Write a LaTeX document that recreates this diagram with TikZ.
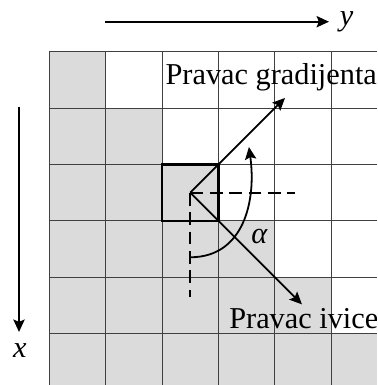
\documentclass[tikz,border=0pt]{standalone}
\usepackage{fontspec}
\setmainfont{Liberation Serif}
\usetikzlibrary{arrows.meta}
\begin{document}
\begin{tikzpicture}[
  x=1cm,y=1cm,
  cell/.style={fill=black!14,draw=none},
  gridline/.style={draw=black!75,line width=0.45pt},
  axis/.style={line width=1pt,-{Stealth[length=2.2mm,width=2mm,inset=0.4mm]}},
  vec/.style={line width=0.9pt,-{Stealth[length=2.2mm,width=2mm,inset=0.4mm]}},
  guide/.style={line width=0.9pt,dash pattern=on 6.5pt off 3.3pt},
  pixbox/.style={line width=1.2pt},
  every node/.style={font=\fontsize{15.3}{18}\selectfont,inner sep=1pt}
]
\clip (-0.874,0.917) rectangle (5.811,-5.910);
\useasboundingbox (-0.874,0.917) rectangle (5.811,-5.910);
% shaded cells
\foreach \r in {0,...,5}
  \foreach \c in {0,...,\r}
    \fill[cell] (\c,-\r) rectangle ++(1,-1);
% grid
\draw[gridline] (0,0) grid (6,-6);
% pixel under consideration
\draw[pixbox] (2,-2) rectangle (3,-3);
\coordinate (c) at (2.5,-2.5);
\coordinate (hend) at (4.36,-2.5);
\coordinate (vend) at (2.5,-4.35);
\coordinate (gtip) at (4.18,-0.82);
\coordinate (etip) at (4.48,-4.48);
\coordinate (astart) at (2.5,-3.645);
\coordinate (aend) at (3.54,-1.69);
\draw[guide] (c) -- (hend);
\draw[guide] (c) -- (vend);
\draw[vec] (c) -- (gtip);
\draw[vec] (c) -- (etip);
\draw[vec] (astart) to[out=0,in=-82,looseness=1.1] (aend);
% labels
\node[anchor=base west] (grad) at (2.02,-0.59) {Pravac gradijenta};
\node[anchor=base west] (edge) at (3.15,-4.90) {Pravac ivice};
\node (alpha) at (3.73,-3.28) {\textit{α}};
% axes
\coordinate (ys) at (0.989,0.532);
\coordinate (ye) at (4.96,0.532);
\coordinate (xs) at (-0.537,-0.98);
\coordinate (xe) at (-0.537,-4.97);
\draw[axis] (ys) -- (ye);
\draw[axis] (xs) -- (xe);
\node[anchor=west] (ylbl) at ([xshift=1.5mm]ye) {\textit{y}};
\node (xlbl) at (-0.52,-5.29) {\textit{x}};
\end{tikzpicture}
\end{document}
